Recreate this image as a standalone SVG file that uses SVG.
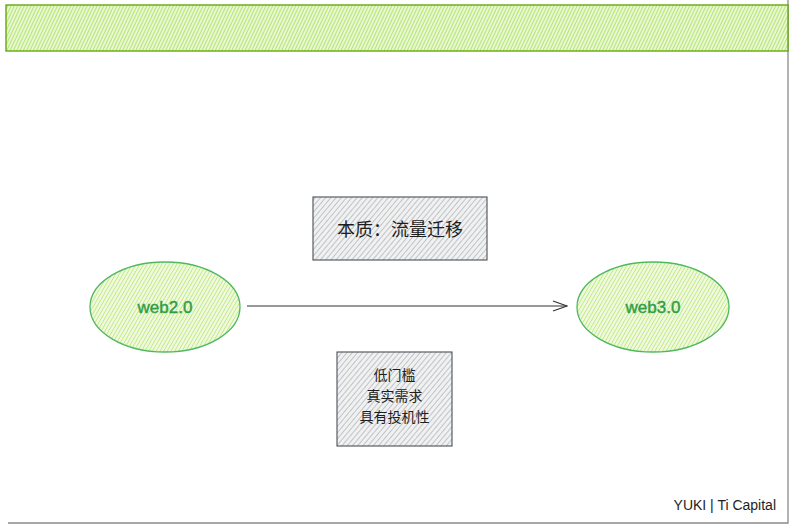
<svg xmlns="http://www.w3.org/2000/svg" width="792" height="528" viewBox="0 0 792 528">
<defs>
<pattern id="hGreen" patternUnits="userSpaceOnUse" width="3.2" height="4" patternTransform="rotate(30)">
<rect width="3.2" height="4" fill="#eef9e0"/>
<line x1="0" y1="0" x2="0" y2="4" stroke="#a9e34b" stroke-width="1.3" opacity="0.85"/>
</pattern>
<pattern id="hLime" patternUnits="userSpaceOnUse" width="3" height="4" patternTransform="rotate(25)">
<rect width="3" height="4" fill="#e8f7d4"/>
<line x1="0" y1="0" x2="0" y2="4" stroke="#94d82d" stroke-width="1.5" opacity="0.8"/>
</pattern>
<pattern id="hGray" patternUnits="userSpaceOnUse" width="4" height="4" patternTransform="rotate(40)">
<rect width="4" height="4" fill="#f1f1f1"/>
<line x1="0" y1="0" x2="0" y2="4" stroke="#868e96" stroke-width="1.1" opacity="0.85"/>
</pattern>
<marker id="arr" markerWidth="16" markerHeight="12" refX="15" refY="6" orient="auto" markerUnits="userSpaceOnUse">
<path d="M1,1 L15,6 L1,11" fill="none" stroke="#333" stroke-width="1.2"/>
</marker>
</defs>
<style>
.band{fill:url(#hLime);stroke:#66a80f;stroke-width:1.4}
.ell{fill:url(#hGreen);stroke:#51b85f;stroke-width:1.3}
.box{fill:url(#hGray);stroke:#495057;stroke-width:1.1}
.etxt{font-family:"Liberation Sans","DejaVu Sans",sans-serif;font-size:17px;fill:#2f9e44;text-anchor:middle;stroke:#2f9e44;stroke-width:0.4}
.cj{font-family:"Noto Sans CJK SC",sans-serif;fill:#1e1e1e;text-anchor:middle}
.frame{stroke:#8a8a8a;stroke-width:1.3;fill:none}
</style>
<rect width="792" height="528" fill="#fff"/>
<g id="frame"><path class="frame" d="M8,523 H788 V0"/></g>
<g id="band"><rect class="band" x="6" y="5" width="782" height="46"/></g>
<g id="connectors">
<line x1="247" y1="306" x2="567" y2="306" stroke="#333" stroke-width="1.2" marker-end="url(#arr)"/>
</g>
<g id="web2"><ellipse class="ell" cx="165" cy="307" rx="75" ry="45"/><text class="etxt" x="165" y="313">web2.0</text></g>
<g id="web3"><ellipse class="ell" cx="653" cy="307" rx="76" ry="45"/><text class="etxt" x="653" y="313">web3.0</text></g>
<g id="essence"><rect class="box" x="313" y="197" width="174" height="63"/><text class="cj" x="400" y="236" font-size="18">本质：流量迁移</text></g>
<g id="reasons"><rect class="box" x="337" y="352" width="115" height="94"/>
<text class="cj" font-size="14"><tspan x="394.5" y="380">低门槛</tspan><tspan x="394.5" y="401">真实需求</tspan><tspan x="394.5" y="422">具有投机性</tspan></text></g>
<g id="footer"><text x="776" y="510" text-anchor="end" font-family="Liberation Sans,sans-serif" font-size="14" fill="#1e1e1e">YUKI | Ti Capital</text></g>
</svg>
